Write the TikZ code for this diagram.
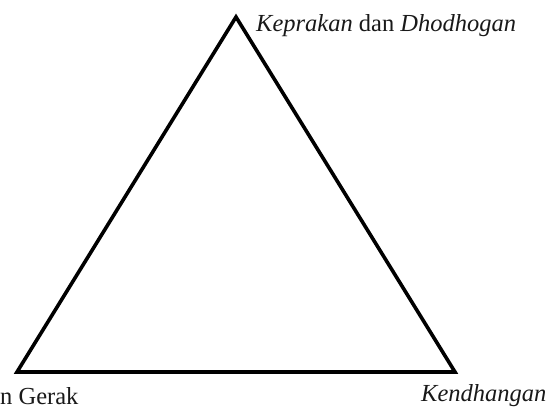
\documentclass[tikz,border=0pt]{standalone}
\usepackage{fontspec}
\setmainfont{Liberation Serif}
\usetikzlibrary{positioning}
\tikzset{
  edge/.style={draw=black,line width=3.6pt,line join=miter},
  tag/.style={inner sep=0pt,anchor=base west,font=\fontsize{24.5}{28}\selectfont,text=black!90},
}
\begin{document}
\begin{tikzpicture}[x=1pt,y=-1pt]
  \useasboundingbox (0,0) rectangle (555,409);
  % corners of the triangle
  \coordinate (apex) at (236,17);
  \coordinate (left) at (17,372);
  \coordinate (right) at (455,372);
  \draw[edge] (apex) -- (left) -- (right) -- cycle;
  % labels
  \node[tag] (keprakan) at (256,32) {\emph{Keprakan} dan \emph{Dhodhogan}};
  \node[tag] (gerak) at (0,404) {n Gerak};
  \node[tag] (kendhangan) at (421,401) {\emph{Kendhangan}};
\end{tikzpicture}
\end{document}
